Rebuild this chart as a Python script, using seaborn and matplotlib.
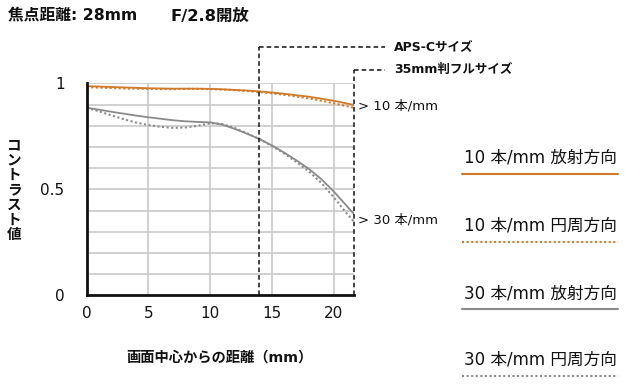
import matplotlib
matplotlib.use("Agg")
import matplotlib.pyplot as plt
import seaborn as sns
import pandas as pd
import numpy as np

# ---- data ----
x_mm = [0, 1, 2, 3, 4, 5, 6, 7, 8, 9, 10, 11, 12, 13, 14, 15, 16, 17, 18, 19, 20, 21, 21.64]
r10 = [0.987, 0.985, 0.983, 0.981, 0.979, 0.977, 0.976, 0.975, 0.975, 0.975, 0.974, 0.972, 0.969, 0.966, 0.962, 0.957, 0.951, 0.944, 0.937, 0.928, 0.918, 0.906, 0.898]
t10 = [0.982, 0.980, 0.978, 0.976, 0.975, 0.974, 0.973, 0.973, 0.974, 0.974, 0.973, 0.971, 0.968, 0.964, 0.959, 0.953, 0.946, 0.938, 0.929, 0.918, 0.906, 0.893, 0.885]
r30 = [0.885, 0.876, 0.866, 0.857, 0.848, 0.840, 0.833, 0.826, 0.821, 0.818, 0.816, 0.805, 0.785, 0.762, 0.737, 0.707, 0.673, 0.636, 0.596, 0.548, 0.490, 0.425, 0.383]
t30 = [0.885, 0.868, 0.849, 0.831, 0.815, 0.803, 0.795, 0.790, 0.792, 0.800, 0.812, 0.808, 0.789, 0.764, 0.737, 0.705, 0.669, 0.628, 0.584, 0.530, 0.463, 0.390, 0.347]
aps_c = 13.95
full_frame = 21.64
legend_labels = ["10 本/mm 放射方向", "10 本/mm 円周方向", "30 本/mm 放射方向", "30 本/mm 円周方向"]
title_left = "焦点距離: 28mm"
title_right = "F/2.8開放"

sns.set_theme(style="white")
plt.rcParams['font.family'] = ['DejaVu Sans', 'Noto Sans CJK JP']

ORANGE = "#d07a2a"
GRAY = "#8a8a8a"
INK = "#111111"

df = pd.DataFrame({"x": x_mm, "r10": r10, "t10": t10, "r30": r30, "t30": t30})

fig = plt.figure(figsize=(6.25, 3.86), dpi=100)
ax = fig.add_axes([0.1387, 0.235, 0.4277, 0.549])
ax.set_xlim(0, full_frame)
ax.set_ylim(0, 1)

# grid
for gx in [5, 10, 15, 20]:
    ax.axvline(gx, color="#c9c9c9", lw=1.2, zorder=0)
for gy in np.arange(0.1, 1.01, 0.1):
    ax.axhline(gy, color="#c9c9c9", lw=1.2, zorder=0)

dot = (0, (1, 1.2))
sns.lineplot(data=df, x="x", y="r10", ax=ax, color=ORANGE, lw=1.3)
sns.lineplot(data=df, x="x", y="t10", ax=ax, color=ORANGE, lw=1.5, linestyle=dot)
sns.lineplot(data=df, x="x", y="r30", ax=ax, color=GRAY, lw=1.3)
sns.lineplot(data=df, x="x", y="t30", ax=ax, color=GRAY, lw=1.5, linestyle=dot)

for s in ["top", "right"]:
    ax.spines[s].set_visible(False)
for s in ["left", "bottom"]:
    ax.spines[s].set_color(INK)
    ax.spines[s].set_linewidth(2)

ax.set_xticks([0, 5, 10, 15, 20])
ax.set_xticklabels(["0", "5", "10", "15", "20"])
yt = np.round(np.arange(0, 1.01, 0.1), 1)
ax.set_yticks(yt)
ax.set_yticklabels([{0.0: "0", 0.5: "0.5", 1.0: "1"}.get(float(v), "") for v in yt])
ax.tick_params(axis="both", direction="in", length=7, width=2, color=INK,
               labelsize=11, labelcolor=INK)
ax.tick_params(axis="y", pad=16)
ax.tick_params(axis="x", pad=8)
ax.set_xlabel("")
ax.set_ylabel("")

# dashed frame lines
dash = (0, (3, 2))
ax.plot([aps_c, aps_c], [0, 1.17], color=INK, lw=1.1, ls=dash, clip_on=False)
ax.plot([aps_c, 24.15], [1.17, 1.17], color=INK, lw=1.1, ls=dash, clip_on=False)
ax.plot([full_frame, full_frame], [0, 1.065], color=INK, lw=1.1, ls=dash, clip_on=False)
ax.plot([full_frame, 24.15], [1.065, 1.065], color=INK, lw=1.1, ls=dash, clip_on=False)

ax.text(24.9, 1.17, "APS-Cサイズ", fontsize=9, va="center", ha="left", fontweight="bold", color=INK, clip_on=False)
ax.text(24.9, 1.065, "35mm判フルサイズ", fontsize=9, va="center", ha="left", fontweight="bold", color=INK, clip_on=False)
ax.text(21.95, r10[-1] - 0.005, "> 10 本/mm", fontsize=9.5, va="center", ha="left", color=INK, clip_on=False)
ax.text(21.95, t30[-1] + 0.01, "> 30 本/mm", fontsize=9.5, va="center", ha="left", color=INK, clip_on=False)

# titles
fig.text(8/625, 1 - 16/386, title_left, fontsize=11.3, fontweight="bold", va="center", ha="left", color=INK)
fig.text(170/625, 1 - 16/386, title_right, fontsize=11.8, fontweight="bold", va="center", ha="left", color=INK)

# y label (vertical stacked)
fig.text(14/625, 1 - 190/386, "\n".join("コントラスト値"), fontsize=10.5, fontweight="bold",
         va="center", ha="center", linespacing=1.0, color=INK)
# x label
fig.text(219/625, 1 - 358/386, "画面中心からの距離（mm）", fontsize=10.3, fontweight="bold",
         va="center", ha="center", color=INK)

# legend on right
leg_text_y = [158, 226, 293, 360]
leg_line_y = [173.5, 241.5, 309, 376]
styles = [(ORANGE, "-"), (ORANGE, dot), (GRAY, "-"), (GRAY, dot)]
for lab, ty, ly, (c, ls) in zip(legend_labels, leg_text_y, leg_line_y, styles):
    fig.text(617/625, 1 - ty/386, lab, fontsize=12, va="center", ha="right", color=INK)
    fig.add_artist(plt.Line2D([462/625, 618/625], [1 - ly/386, 1 - ly/386], color=c, lw=1.5, ls=ls,
                              transform=fig.transFigure))

fig.savefig("out.png", dpi=100)
